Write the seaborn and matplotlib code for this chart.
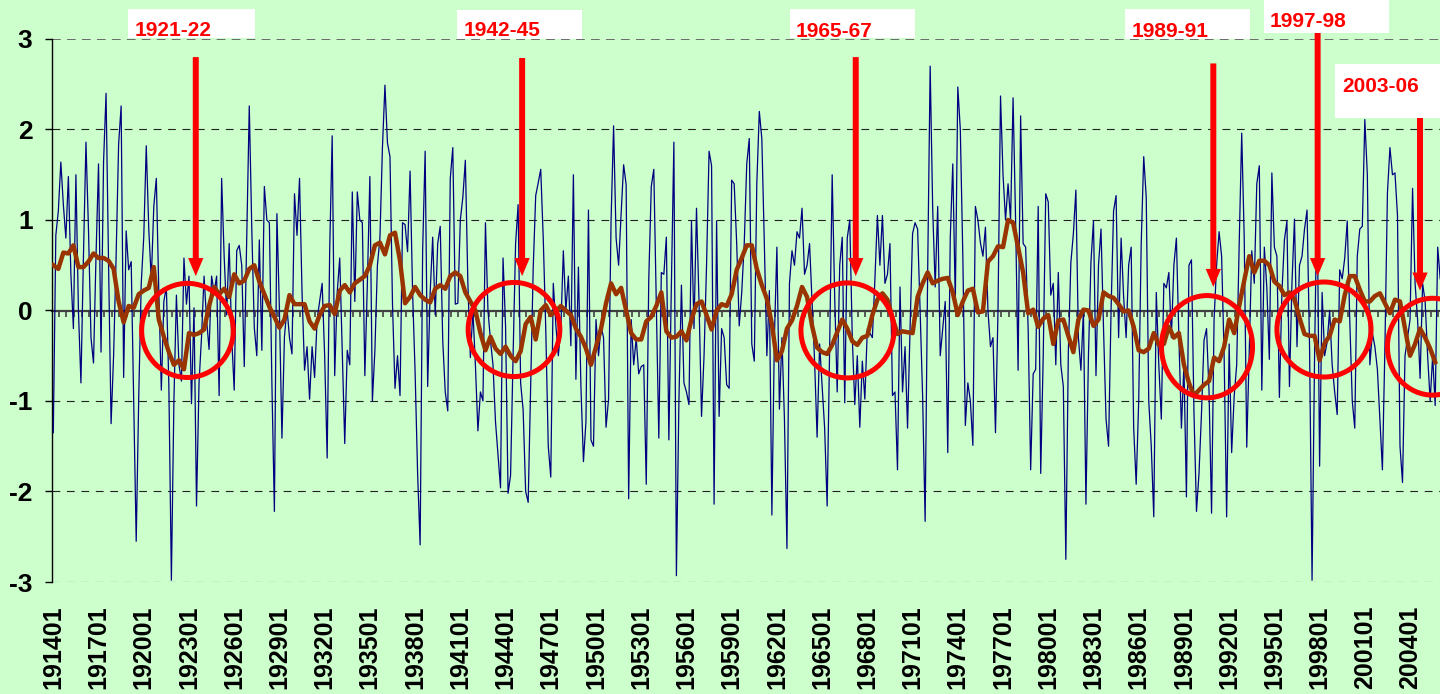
import numpy as np
import pandas as pd
import matplotlib
matplotlib.use('Agg')
import matplotlib.pyplot as plt
from matplotlib.patches import Ellipse, Rectangle
import seaborn as sns

# monthly index, one value every 2 months from 1914-01
blue_1914_1929 = [
    -1.35, 0.83, 1.1, 1.64, 1.17, 0.8, 1.48, 0.4, -0.2, 1.5,
    0.0, -0.8, 0.6, 1.86, 0.9, -0.3, -0.58, 0.6, 1.62, -0.46,
    1.64, 2.4, 0.5, -1.25, -0.5, 0.6, 1.84, 2.26, -0.74, 0.88,
    0.45, 0.54, -1.0, -2.55, -0.96, 0.3, 0.81, 1.82, 0.9, 0.34,
    1.15, 1.46, 0.2, -0.88, 0.1, 0.26, -0.84, -2.98, -1.0, 0.17,
    -0.6, -0.78, 0.58, 0.07, 0.38, -1.03, 0.03, -2.16, -0.8, -0.29,
    0.38, -0.1, -0.43, 0.38, 0.2, 0.38, -0.94, 1.46, 0.6, -0.05,
    0.74, -0.3, -0.88, 0.66, 0.72, 0.5, -0.62, 0.8, 2.26, 0.9,
    -0.19, -0.5, 0.78, -0.44, 1.37, 1.0, 0.97, -0.8, -2.22, 1.07,
    0.0, -1.41, -0.29]
blue_1929_1945 = [
    0.03, -0.3, -0.48, 1.29, 0.83, 1.46, 0.2, -0.66, -0.4, -0.98,
    -0.4, -0.74, -0.1, 0.1, 0.3, -0.5, -1.63, 0.66, 1.93, -0.72,
    0.2, 0.58, -0.44, -1.47, -0.44, -0.6, 1.31, 0.1, 1.31, 1.0,
    0.97, -0.72, 0.3, 1.48, -1.0, -0.44, 0.5, 0.8, 1.8, 2.49,
    1.85, 1.7, 0.07, -0.86, -0.5, -0.94, 0.97, 0.95, 0.65, 1.54,
    0.2, -0.68, -1.8, -2.59, 0.66, 1.76, -0.84, 0.2, 0.81, -0.05,
    0.74, 0.93, -0.33, -0.9, -1.11, 1.46, 1.8, 0.07, 0.08, 1.0,
    1.25, 1.66, 0.3, -0.52, 0.0, -0.6, -1.33, -0.9, -1.0, 0.97,
    0.0, -0.33, -0.6, -1.23, -1.6, -1.96, 0.58, -0.17, -2.02, -1.82,
    -0.5, 0.74, 1.17]
blue_1945_1960 = [
    -0.8, -1.1, -2.0, -2.12, -0.84, 0.46, 1.27, 1.41, 1.56, 0.8,
    -0.2, -1.5, -1.84, 0.3, -0.15, -0.5, -0.2, 0.66, 0.0, 0.38,
    -0.39, 1.5, -0.76, 0.48, -0.84, -1.67, -1.23, 1.11, -1.43, -1.5,
    -0.1, -0.5, -0.17, -0.3, -1.29, -0.98, 1.0, 2.04, 0.8, 0.5,
    1.07, 1.61, 1.39, -2.08, -0.1, -0.6, -0.31, -0.7, -0.62, -0.6,
    -1.92, 0.34, 1.37, 1.56, 0.1, -1.41, 0.42, 0.4, 0.81, -1.43,
    0.28, 1.86, -2.93, -1.0, 0.28, -0.8, -0.9, -1.04, 0.99, -0.2,
    1.13, 0.1, -1.17, -0.5, 0.5, 1.76, 1.6, -2.14, 0.99, -1.17,
    -0.2, -0.3, -0.82, -0.86, 1.44, 1.4, 0.74, -0.17, 0.2]
blue_1960_1975 = [
    0.74, 1.62, 1.9, -0.37, -0.56, 1.4, 2.2, 1.9, 0.74, -0.5,
    0.22, -2.26, -0.3, 0.7, -1.09, -0.3, -1.2, -2.63, 0.3, 0.66,
    0.5, 0.87, 0.8, 1.13, 0.4, 0.5, 0.74, 0.1, -0.56, -1.4,
    -0.37, -0.84, -1.3, -2.16, -0.4, 1.5, 0.15, -0.9, 0.5, 0.81,
    -1.02, 0.8, 1.0, -0.3, -1.04, -0.5, -1.29, -0.56, -0.98, -0.2,
    -0.25, -0.3, 0.34, 1.05, 0.5, 1.05, 0.3, 0.4, 0.74, -0.94,
    -0.9, -1.76, 0.26, -0.9, -0.4, -1.3, -0.2, 0.85, 0.97, 0.9,
    0.0, -0.95, -2.33, 0.42, 2.7, 1.13, 0.26, 1.15, -0.5, -0.2,
    0.1, -1.57, 0.8, 1.62, 0.1, 2.47, 2.0, 0.6, -1.27, -0.8,
    -1.0, -1.49, 1.15]
blue_1975_1990 = [
    1.0, 0.75, 0.6, 0.92, 0.0, -0.4, -0.3, -1.35, 0.0, 2.37,
    1.5, 1.0, 1.4, 1.0, 2.35, 1.0, -0.66, 2.15, 0.74, 0.7,
    -0.2, -1.76, -0.7, -0.65, 1.15, -1.8, -0.5, 1.29, 1.2, 0.17,
    0.3, -0.6, 0.42, -0.6, -0.84, -2.75, -0.45, 0.53, 0.85, 1.33,
    -0.3, -0.66, 0.0, -2.14, -0.5, 0.54, 0.99, -0.72, 0.5, 0.9,
    -0.2, -1.2, -1.5, 0.0, 1.1, 1.27, -0.3, 0.8, 0.15, -0.3,
    0.5, 0.7, -1.3, -1.92, -1.0, 0.74, 1.7, 1.25, -1.0, -1.5,
    -2.28, 0.2, -0.6, -1.2, 0.3, 0.25, 0.42, -0.3, 0.5, 0.8,
    -0.3, -1.3, -0.6, -2.06, 0.5, 0.56, -1.13, -2.22, -1.8, -1.13,
    -0.33]
blue_1990_2006 = [
    -0.2, -0.9, -2.24, -0.1, 0.5, 0.87, 0.6, -0.5, -2.28, -0.37,
    -1.57, -0.95, -0.6, 0.74, 1.96, 0.8, -1.51, -0.45, 0.66, 0.3,
    1.4, 1.6, -0.88, 0.7, 0.25, -0.54, 1.52, 0.7, 0.6, -0.96,
    0.2, 0.78, 0.99, -0.84, 0.3, 1.01, -0.4, 0.5, 0.6, 0.9,
    1.11, -0.4, -2.98, -0.5, 1.35, -1.72, 0.2, -0.5, -0.35, 0.0,
    -0.6, -0.9, -1.15, 0.45, 0.35, 0.58, 0.99, -0.1, -1.0, -1.3,
    0.6, 0.9, 0.93, 2.11, 1.5, -0.6, -0.25, -0.4, -0.65, -1.2,
    -1.76, -0.4, 1.3, 1.8, 1.5, 1.52, 1.05, -1.5, -1.9, -0.5,
    -0.3, -0.1, 1.35, 0.3, -0.1, -0.75, 0.3, 0.1, -0.5, -1.0,
    -0.5, -1.05, 0.7, 0.35]

# smoothed index, one value every 4 months from 1914-01
brown_1914_1929 = [
    0.5, 0.46, 0.64, 0.63, 0.72, 0.48, 0.48, 0.54, 0.63, 0.58,
    0.58, 0.55, 0.46, 0.1, -0.13, 0.05, 0.03, 0.18, 0.22, 0.25,
    0.48, -0.1, -0.29, -0.46, -0.6, -0.55, -0.65, -0.25, -0.27, -0.25,
    -0.21, 0.05, 0.26, 0.18, 0.24, 0.15, 0.4, 0.3, 0.33, 0.46,
    0.5, 0.32, 0.18, 0.04, -0.07, -0.19, -0.1]
brown_1929_1945 = [
    0.17, 0.07, 0.07, 0.07, -0.12, -0.2, -0.05, 0.05, 0.06, -0.04,
    0.22, 0.28, 0.2, 0.3, 0.34, 0.38, 0.5, 0.72, 0.75, 0.62,
    0.83, 0.86, 0.55, 0.08, 0.15, 0.26, 0.17, 0.12, 0.09, 0.24,
    0.28, 0.24, 0.38, 0.42, 0.38, 0.2, 0.1, 0.0, -0.25, -0.44,
    -0.29, -0.42, -0.48, -0.4, -0.5, -0.56]
brown_1945_1960 = [
    -0.45, -0.15, -0.07, -0.32, 0.0, 0.06, -0.05, -0.01, 0.05, 0.0,
    -0.05, -0.2, -0.29, -0.42, -0.6, -0.4, -0.2, 0.08, 0.3, 0.18,
    0.25, 0.0, -0.25, -0.32, -0.32, -0.12, -0.07, 0.05, 0.2, -0.23,
    -0.3, -0.29, -0.23, -0.33, -0.1, 0.07, 0.1, -0.05, -0.21, 0.0,
    0.07, 0.05, 0.18, 0.45, 0.58]
brown_1960_1975 = [
    0.72, 0.72, 0.46, 0.28, 0.13, -0.15, -0.55, -0.45, -0.2, -0.11,
    0.05, 0.26, 0.15, -0.17, -0.41, -0.46, -0.48, -0.38, -0.24, -0.1,
    -0.2, -0.34, -0.38, -0.3, -0.28, -0.05, 0.12, 0.19, 0.12, -0.08,
    -0.26, -0.23, -0.24, -0.25, 0.15, 0.3, 0.42, 0.3, 0.33, 0.35,
    0.36, 0.2, -0.05, 0.1, 0.22, 0.24]
brown_1975_1990 = [
    -0.02, -0.01, 0.54, 0.6, 0.71, 0.7, 1.0, 0.97, 0.7, 0.42,
    -0.03, 0.01, -0.18, -0.09, -0.05, -0.37, -0.11, -0.1, -0.28, -0.46,
    -0.1, 0.01, 0.0, -0.17, -0.1, 0.2, 0.16, 0.14, 0.07, -0.01,
    0.0, -0.18, -0.44, -0.46, -0.42, -0.25, -0.38, -0.37, -0.18, -0.3,
    -0.25, -0.6, -0.8, -0.94, -0.88, -0.82]
brown_1990_2006 = [
    -0.78, -0.52, -0.56, -0.4, -0.1, -0.25, 0.05, 0.33, 0.6, 0.42,
    0.55, 0.55, 0.5, 0.32, 0.27, 0.17, 0.2, 0.12, -0.08, -0.26,
    -0.28, -0.28, -0.55, -0.36, -0.28, -0.1, -0.12, 0.17, 0.38, 0.38,
    0.23, 0.1, 0.1, 0.16, 0.19, 0.08, -0.03, 0.12, 0.1, -0.2,
    -0.5, -0.37, -0.2, -0.3, -0.42, -0.57]

tick_years = list(range(1914, 2005, 3))
tick_labels = [f'{y}01' for y in tick_years]
y_ticks = [-3, -2, -1, 0, 1, 2, 3]

# highlighted periods: label, circle centre (year, value), circle size, arrow
event_labels = ['1921-22', '1942-45', '1965-67', '1989-91', '1997-98', '2003-06']
circle_x = [1922.9, 1944.56, 1966.68, 1990.53, 1998.29, 2005.5]
circle_y = [-0.22, -0.21, -0.22, -0.4, -0.21, -0.4]
circle_w = [6.08, 6.08, 6.17, 6.04, 6.24, 6.0]
circle_h = [1.04, 1.04, 1.05, 1.13, 1.05, 1.07]
arrow_x = [1923.45, 1945.1, 1967.23, 1990.95, 1997.87, 2004.66]
arrow_tip = [0.38, 0.38, 0.38, 0.26, 0.38, 0.22]
arrow_top = [2.80, 2.79, 2.80, 2.73, 3.07, 2.13]
# white label boxes in pixels (left, top, right, bottom) and text anchor
label_box = [(128, 9, 255, 38), (457, 10, 582, 39), (790, 9, 915, 38),
             (1125, 9, 1250, 39), (1264, 0, 1389, 33), (1335, 64, 1440, 118)]
label_txt = [(135, 36), (464, 36), (796, 37), (1132, 37), (1270, 27), (1342, 92)]

blue = np.concatenate([blue_1914_1929, blue_1929_1945, blue_1945_1960,
                       blue_1960_1975, blue_1975_1990, blue_1990_2006])
brown = np.concatenate([brown_1914_1929, brown_1929_1945, brown_1945_1960,
                        brown_1960_1975, brown_1975_1990, brown_1990_2006])
df_blue = pd.DataFrame({'year': 1914 + np.arange(len(blue)) * 2 / 12, 'value': blue})
df_brown = pd.DataFrame({'year': 1914 + np.arange(len(brown)) * 4 / 12, 'value': brown})

bg = '#CCFFCC'
arial = ['Liberation Sans', 'DejaVu Sans']
W, H = 1440, 694

fig = plt.figure(figsize=(W / 100, H / 100), dpi=100, facecolor=bg)
ax = fig.add_axes([52 / W, 1 - 582 / H, 1 - 52 / W, (582 - 39) / H])
ax.set_facecolor(bg)

# gridlines
for y in y_ticks:
    if y == 3:
        ax.axhline(y, color='#6a6a6a', lw=1.4, ls=(0, (4.5, 3.2)), zorder=1)
    elif y != 0:
        ax.axhline(y, color='#222222', lw=0.8, ls=(0, (7, 6)), zorder=1)

sns.lineplot(data=df_blue, x='year', y='value', ax=ax, color='#000080',
             linewidth=0.9, errorbar=None, zorder=3)
sns.lineplot(data=df_brown, x='year', y='value', ax=ax, color='#993300',
             linewidth=3.2, errorbar=None, zorder=4)

ax.set_xlim(1914 + (52 - 53.3) / 15.075, 1914 + (1440 - 53.3) / 15.075)
ax.set_ylim(-3, 3)
ax.set_xlabel('')
ax.set_ylabel('')

for s in ['top', 'right', 'bottom']:
    ax.spines[s].set_visible(False)
ax.spines['left'].set_color('black')
ax.spines['left'].set_linewidth(1.0)

ax.set_yticks(y_ticks)
ax.set_yticklabels([str(v) for v in y_ticks], fontsize=19, fontweight='bold',
                   family=arial)
ax.tick_params(axis='y', direction='out', length=5, width=1, pad=9)

ax.set_xticks(tick_years)
ax.set_xticklabels(tick_labels, rotation=90, fontsize=18, fontweight='bold',
                   family=arial)
ax.tick_params(axis='x', length=0, pad=17)

# zero line with small category ticks
sec = ax.secondary_xaxis(0.5)
sec.set_alignment('bottom')
sec.set_xticks(1914 + (4.5 + 6 * np.arange(185)) / 12)
sec.tick_params(axis='x', direction='out', length=4, width=1.2, color='#404040',
                labelbottom=False, labeltop=False)
sec.spines['bottom'].set_color('#404040')
sec.spines['bottom'].set_linewidth(1.6)

# circles and arrows
for cx, cy, w, h in zip(circle_x, circle_y, circle_w, circle_h):
    ax.add_patch(Ellipse((cx, cy), w, h, fill=False, edgecolor='#FF0000',
                         lw=3.6, zorder=6, clip_on=False))
for x, tip, top in zip(arrow_x, arrow_tip, arrow_top):
    ax.annotate('', xy=(x, tip), xytext=(x, top), annotation_clip=False,
                arrowprops=dict(facecolor='#FF0000', edgecolor='none', width=4.3,
                                headwidth=11, headlength=13, shrink=0), zorder=6)

# label boxes
for text, (l, t, r, b), (tx, ty) in zip(event_labels, label_box, label_txt):
    fig.add_artist(Rectangle((l / W, 1 - b / H), (r - l) / W, (b - t) / H,
                             transform=fig.transFigure, facecolor='white',
                             edgecolor='none', zorder=10))
    fig.text(tx / W, 1 - ty / H, text, color='#FF0000', fontsize=15,
             fontweight='bold', family=arial, va='baseline', ha='left', zorder=11)

fig.savefig('out.png', dpi=100, facecolor=bg)
